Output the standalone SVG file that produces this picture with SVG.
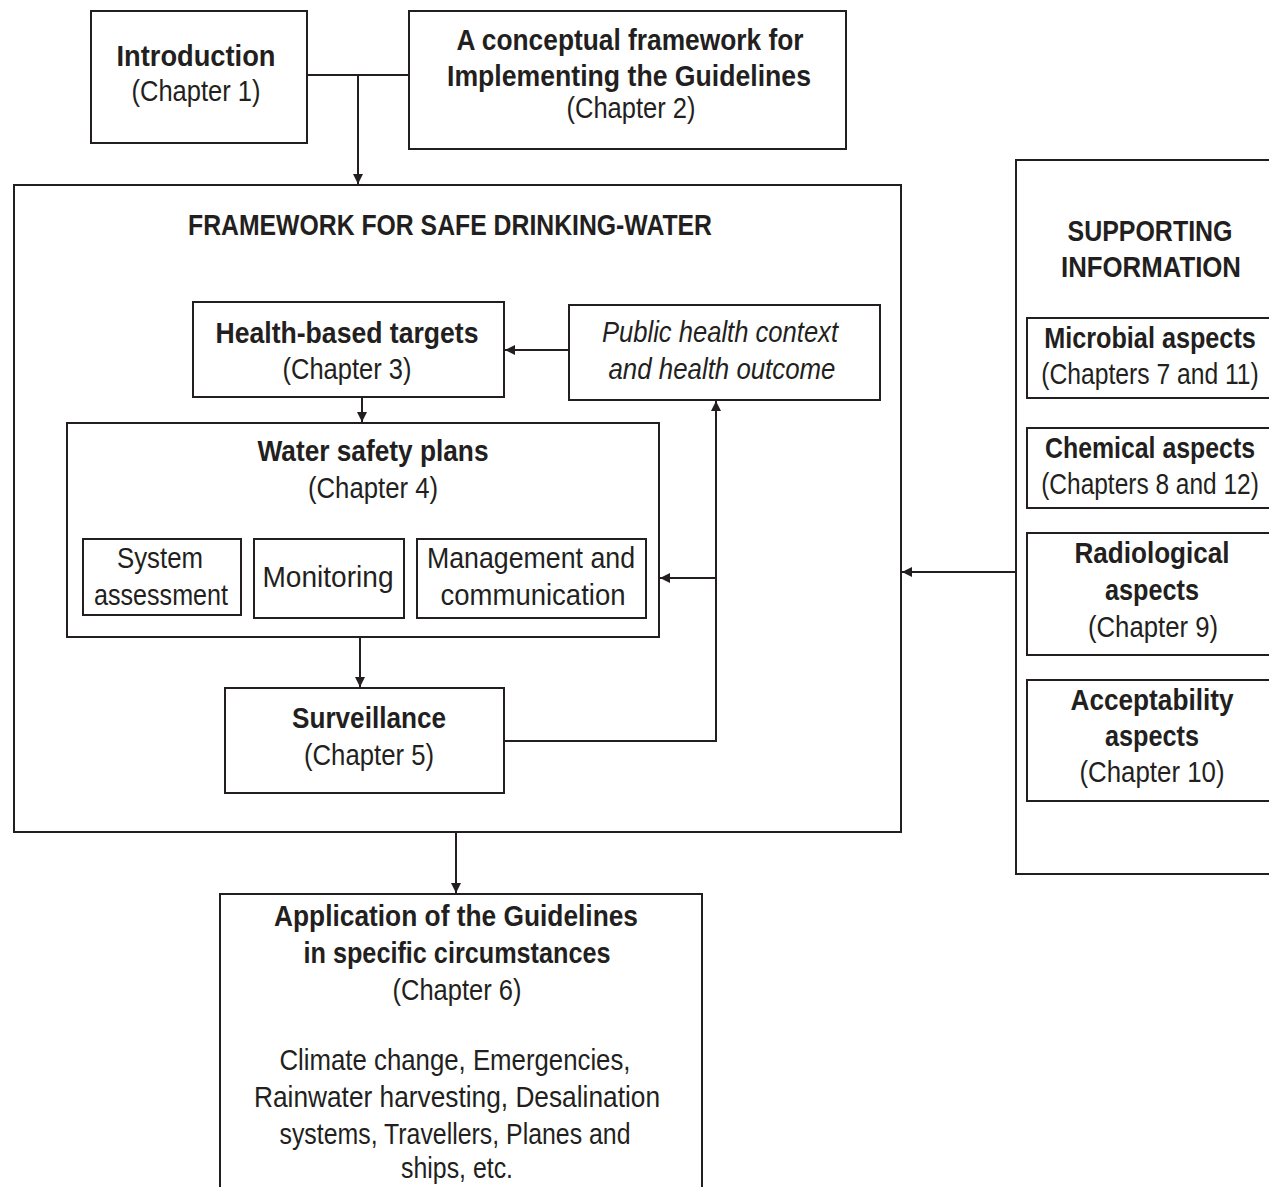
<svg xmlns="http://www.w3.org/2000/svg" width="1269" height="1187" viewBox="0 0 1269 1187">
<style>
.box{fill:#fff;stroke:#231f20;stroke-width:2}
.grp{fill:none;stroke:#231f20;stroke-width:2}
.con{fill:none;stroke:#231f20;stroke-width:2}
text{font-family:"Liberation Sans",Arial,sans-serif;font-size:29px;fill:#231f20;text-anchor:middle}
.b{font-weight:bold}
.i{font-style:italic}
</style>
<defs>
<marker id="ah" viewBox="0 0 10 10" refX="10" refY="5" markerWidth="10" markerHeight="10" markerUnits="userSpaceOnUse" orient="auto">
<path d="M0,0 L10,5 L0,10 z" fill="#231f20"/>
</marker>
</defs>
<rect width="1269" height="1187" fill="#fff"/>

<g id="framework">
<rect class="grp" x="14" y="185" width="887" height="647"/>
<text class="b" x="450" y="235" textLength="524" lengthAdjust="spacingAndGlyphs">FRAMEWORK FOR SAFE DRINKING-WATER</text>
</g>

<g id="supporting">
<rect class="grp" x="1016" y="160" width="270" height="714"/>
<text class="b" x="1150" y="241" textLength="165" lengthAdjust="spacingAndGlyphs">SUPPORTING</text>
<text class="b" x="1151" y="277" textLength="180" lengthAdjust="spacingAndGlyphs">INFORMATION</text>
</g>

<g id="introduction">
<rect class="box" x="91" y="11" width="216" height="132"/>
<text class="b" x="196" y="66" textLength="159" lengthAdjust="spacingAndGlyphs">Introduction</text>
<text x="196" y="101" textLength="129" lengthAdjust="spacingAndGlyphs">(Chapter 1)</text>
</g>

<g id="conceptual">
<rect class="box" x="409" y="11" width="437" height="138"/>
<text class="b" x="630" y="50" textLength="347" lengthAdjust="spacingAndGlyphs">A conceptual framework for</text>
<text class="b" x="629" y="86" textLength="364" lengthAdjust="spacingAndGlyphs">Implementing the Guidelines</text>
<text x="631" y="118" textLength="129" lengthAdjust="spacingAndGlyphs">(Chapter 2)</text>
</g>

<g id="health-targets">
<rect class="box" x="193" y="302" width="311" height="95"/>
<text class="b" x="347" y="343" textLength="263" lengthAdjust="spacingAndGlyphs">Health-based targets</text>
<text x="347" y="379" textLength="129" lengthAdjust="spacingAndGlyphs">(Chapter 3)</text>
</g>

<g id="public-health">
<rect class="box" x="569" y="305" width="311" height="95"/>
<text class="i" x="720" y="342" textLength="236" lengthAdjust="spacingAndGlyphs">Public health context</text>
<text class="i" x="722" y="379" textLength="227" lengthAdjust="spacingAndGlyphs">and health outcome</text>
</g>

<g id="water-safety-plans">
<rect class="box" x="67" y="423" width="592" height="214"/>
<text class="b" x="373" y="461" textLength="231" lengthAdjust="spacingAndGlyphs">Water safety plans</text>
<text x="373" y="498" textLength="130" lengthAdjust="spacingAndGlyphs">(Chapter 4)</text>
</g>

<g id="system-assessment">
<rect class="box" x="83" y="539" width="158" height="76"/>
<text x="160" y="568" textLength="86" lengthAdjust="spacingAndGlyphs">System</text>
<text x="161" y="605" textLength="134" lengthAdjust="spacingAndGlyphs">assessment</text>
</g>

<g id="monitoring">
<rect class="box" x="254" y="539" width="150" height="79"/>
<text x="328" y="587" textLength="131" lengthAdjust="spacingAndGlyphs">Monitoring</text>
</g>

<g id="management">
<rect class="box" x="417" y="539" width="229" height="79"/>
<text x="531" y="568" textLength="208" lengthAdjust="spacingAndGlyphs">Management and</text>
<text x="533" y="605" textLength="185" lengthAdjust="spacingAndGlyphs">communication</text>
</g>

<g id="surveillance">
<rect class="box" x="225" y="688" width="279" height="105"/>
<text class="b" x="369" y="728" textLength="154" lengthAdjust="spacingAndGlyphs">Surveillance</text>
<text x="369" y="765" textLength="130" lengthAdjust="spacingAndGlyphs">(Chapter 5)</text>
</g>

<g id="application">
<rect class="box" x="220" y="894" width="482" height="310"/>
<text class="b" x="456" y="926" textLength="364" lengthAdjust="spacingAndGlyphs">Application of the Guidelines</text>
<text class="b" x="457" y="963" textLength="307" lengthAdjust="spacingAndGlyphs">in specific circumstances</text>
<text x="457" y="1000" textLength="129" lengthAdjust="spacingAndGlyphs">(Chapter 6)</text>
<text x="455" y="1070" textLength="351" lengthAdjust="spacingAndGlyphs">Climate change, Emergencies,</text>
<text x="457" y="1107" textLength="406" lengthAdjust="spacingAndGlyphs">Rainwater harvesting, Desalination</text>
<text x="455" y="1144" textLength="351" lengthAdjust="spacingAndGlyphs">systems, Travellers, Planes and</text>
<text x="457" y="1178" textLength="112" lengthAdjust="spacingAndGlyphs">ships, etc.</text>
</g>

<g id="microbial">
<rect class="box" x="1027" y="318" width="260" height="80"/>
<text class="b" transform="translate(1150,348) scale(0.85,1)" x="0" y="0" textLength="249" lengthAdjust="spacingAndGlyphs">Microbial aspects</text>
<text transform="translate(1150,384) scale(0.85,1)" x="0" y="0" textLength="256" lengthAdjust="spacingAndGlyphs">(Chapters 7 and 11)</text>
</g>

<g id="chemical">
<rect class="box" x="1027" y="428" width="260" height="80"/>
<text class="b" transform="translate(1150,458) scale(0.85,1)" x="0" y="0" textLength="247" lengthAdjust="spacingAndGlyphs">Chemical aspects</text>
<text transform="translate(1150,494) scale(0.85,1)" x="0" y="0" textLength="256" lengthAdjust="spacingAndGlyphs">(Chapters 8 and 12)</text>
</g>

<g id="radiological">
<rect class="box" x="1027" y="533" width="260" height="122"/>
<text class="b" x="1152" y="563" textLength="155" lengthAdjust="spacingAndGlyphs">Radiological</text>
<text class="b" x="1152" y="600" textLength="94" lengthAdjust="spacingAndGlyphs">aspects</text>
<text x="1153" y="637" textLength="130" lengthAdjust="spacingAndGlyphs">(Chapter 9)</text>
</g>

<g id="acceptability">
<rect class="box" x="1027" y="680" width="260" height="121"/>
<text class="b" x="1152" y="710" textLength="163" lengthAdjust="spacingAndGlyphs">Acceptability</text>
<text class="b" x="1152" y="746" textLength="94" lengthAdjust="spacingAndGlyphs">aspects</text>
<text x="1152" y="782" textLength="145" lengthAdjust="spacingAndGlyphs">(Chapter 10)</text>
</g>

<g id="connectors">
<path class="con" d="M307,75 H409"/>
<path class="con" d="M358,75 V184" marker-end="url(#ah)"/>
<path class="con" d="M569,350 H505" marker-end="url(#ah)"/>
<path class="con" d="M362,397 V422" marker-end="url(#ah)"/>
<path class="con" d="M504,741 H716 V401" marker-end="url(#ah)"/>
<path class="con" d="M716,578 H660" marker-end="url(#ah)"/>
<path class="con" d="M360,637 V687" marker-end="url(#ah)"/>
<path class="con" d="M456,832 V893" marker-end="url(#ah)"/>
<path class="con" d="M1016,572 H902" marker-end="url(#ah)"/>
</g>
</svg>
